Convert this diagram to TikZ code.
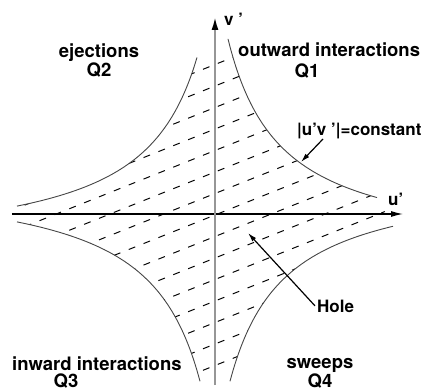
\documentclass[tikz,border=0pt]{standalone}
\usepackage{fontspec}
\setmainfont{TeX Gyre Heros}
\usetikzlibrary{arrows.meta}
\definecolor{axisgrey}{RGB}{150,150,150}
\definecolor{curvegrey}{RGB}{70,70,70}
\tikzset{
  quadlabel/.style={font=\fontsize{18.5}{22}\selectfont\bfseries,inner sep=0pt},
  notelabel/.style={font=\fontsize{17}{20}\selectfont\bfseries,inner sep=0pt},
  hypcurve/.style={draw=curvegrey,line width=0.9pt,smooth,samples=60},
  hatchline/.style={draw=black,line width=1pt,dash pattern=on 7pt off 9pt},
  uaxis/.style={-{Latex[length=12pt,width=6pt]},line width=1.2pt,draw=black},
  vaxis/.style={-{Latex[length=13pt,width=7pt,color=black]},line width=2pt,draw=axisgrey},
  callarrow/.style={-{Latex[length=9pt,width=5pt]},line width=1.2pt,draw=black}
}
\newcommand{\hconst}{11400}

\begin{document}
\begin{tikzpicture}[x=1pt,y=1pt]
  \useasboundingbox (-215,-177) rectangle (208,214);
  \begin{scope}
    \clip plot[domain=-198:-18,samples=60] (\x,{\hconst/(40-\x)-40})
      -- plot[domain=13:162,samples=60] (\x,{\hconst/(\x+40)-40})
      -- plot[domain=178:15,samples=60] (\x,{40-\hconst/(\x+40)})
      -- plot[domain=-15:-198,samples=60] (\x,{40-\hconst/(40-\x)})
      -- cycle;
    \foreach \k in {-9,...,9}
      \draw[hatchline] (-220,{-89+21.5*\k}) -- (220,{87+21.5*\k});
  \end{scope}
  \draw[hypcurve] plot[domain=13:162] (\x,{\hconst/(\x+40)-40});
  \draw[hypcurve] plot[domain=-198:-18] (\x,{\hconst/(40-\x)-40});
  \draw[hypcurve] plot[domain=-198:-15] (\x,{40-\hconst/(40-\x)});
  \draw[hypcurve] plot[domain=15:178] (\x,{40-\hconst/(\x+40)});
  \coordinate (ustart) at (-203,0);
  \coordinate (uend) at (188,0);
  \coordinate (vstart) at (0,-171);
  \coordinate (vend) at (0,197);
  \draw[uaxis] (ustart) -- (uend);
  \draw[vaxis] (vstart) -- (vend);
  \node[notelabel,anchor=base west] (vlab) at (9,188) {v ’};
  \node[notelabel,anchor=base west] (ulab) at (173,9) {u’};
  \node[quadlabel,anchor=base] (ejec) at (-116,156) {ejections};
  \node[quadlabel,anchor=base] (qtwo) at (-116,137) {Q2};
  \node[quadlabel,anchor=base west] (outw) at (23,157) {outward interactions};
  \node[quadlabel,anchor=base] (qone) at (92,136) {Q1};
  \node[quadlabel,anchor=base west] (inw) at (-203,-156.5) {inward interactions};
  \node[quadlabel,anchor=base] (qthree) at (-149,-173.5) {Q3};
  \node[quadlabel,anchor=base] (sweep) at (105,-154) {sweeps};
  \node[quadlabel,anchor=base] (qfour) at (105,-173) {Q4};
  \node[notelabel,anchor=base west] (constlab) at (82,78) {|u’v ’|=constant};
  \node[notelabel,anchor=base west] (holelab) at (102,-98) {Hole};
  \coordinate (constpt) at (86,52);
  \coordinate (holept) at (33,-19);
  \draw[callarrow] ([xshift=26pt,yshift=-3pt]constlab.base west) -- (constpt);
  \draw[callarrow] ([xshift=-2pt]holelab.west) -- (holept);
\end{tikzpicture}
\end{document}
